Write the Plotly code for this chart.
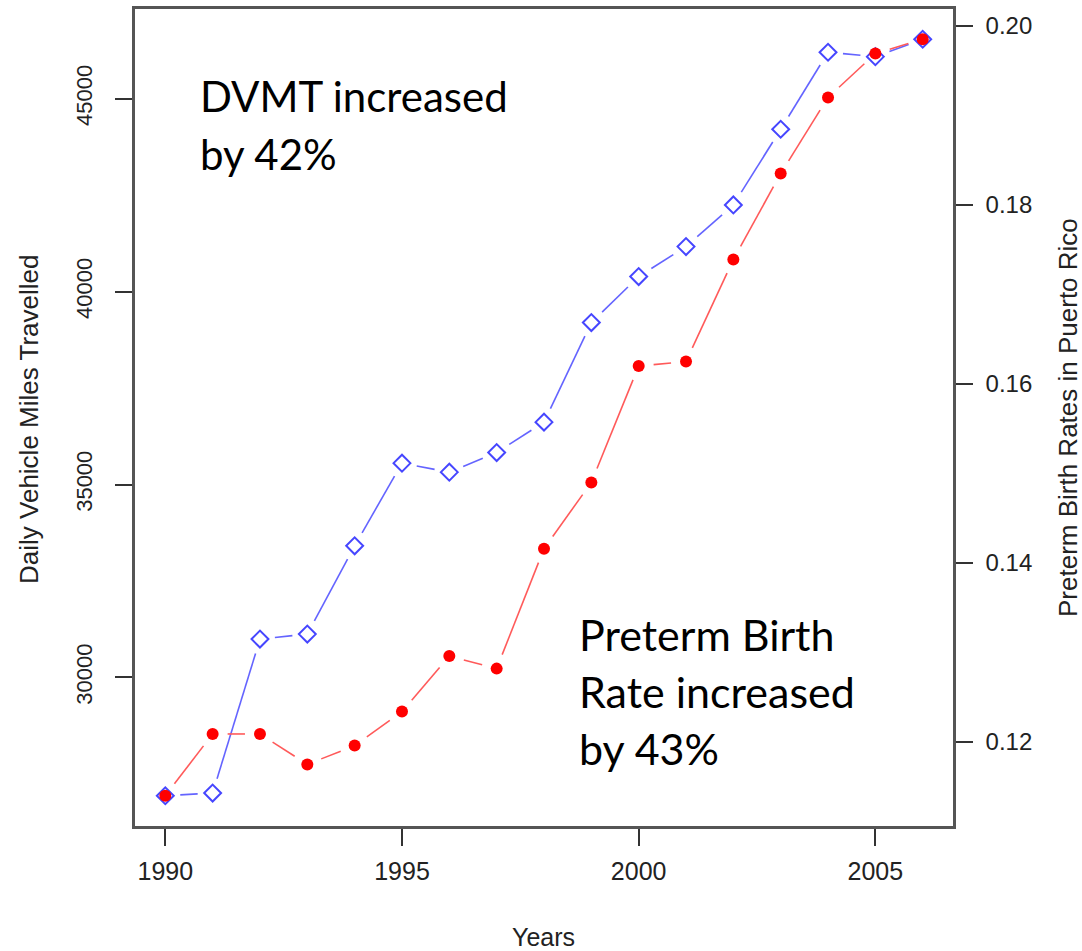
import math
import plotly.graph_objects as go

# ---------------- data ----------------
years = [1990, 1991, 1992, 1993, 1994, 1995, 1996, 1997, 1998,
         1999, 2000, 2001, 2002, 2003, 2004, 2005, 2006]
dvmt = [26935, 27005, 30995, 31124, 33412, 35554, 35321, 35829, 36617,
        39197, 40389, 41166, 42246, 44207, 46202, 46088, 46539]
preterm = [0.1140, 0.1209, 0.1209, 0.1175, 0.1196, 0.1234, 0.1296, 0.1282, 0.1416,
           0.1490, 0.1620, 0.1625, 0.1739, 0.1835, 0.1920, 0.1969, 0.1985]
x_ticks = [1990, 1995, 2000, 2005]
left_ticks = [30000, 35000, 40000, 45000]
right_ticks = [0.12, 0.14, 0.16, 0.18, 0.20]

x_title = "Years"
left_title = "Daily Vehicle Miles Travelled"
right_title = "Preterm Birth Rates in Puerto Rico"
note1 = ["DVMT increased", "by 42%"]
note2 = ["Preterm Birth", "Rate increased", "by 43%"]

# ---------------- layout geometry ----------------
FIG_W, FIG_H = 1082, 951
M_L, M_R, M_T, M_B = 135, 129, 9, 125
PW, PH = FIG_W - M_L - M_R, FIG_H - M_T - M_B


def ext_range(vals, frac=0.04):
    lo, hi = min(vals), max(vals)
    s = hi - lo
    return [lo - frac * s, hi + frac * s]


xr = ext_range(years)
yr_l = ext_range(dvmt)
yr_r = ext_range(preterm)


def gapped(xs, ys, xrng, yrng, gap):
    """Line segments between points, shortened near each point (R type='b')."""
    ox, oy = [], []
    for i in range(len(xs) - 1):
        px0 = (xs[i] - xrng[0]) / (xrng[1] - xrng[0]) * PW
        py0 = (ys[i] - yrng[0]) / (yrng[1] - yrng[0]) * PH
        px1 = (xs[i + 1] - xrng[0]) / (xrng[1] - xrng[0]) * PW
        py1 = (ys[i + 1] - yrng[0]) / (yrng[1] - yrng[0]) * PH
        d = math.hypot(px1 - px0, py1 - py0)
        if d <= 2 * gap:
            continue
        t = gap / d
        ox += [xs[i] + (xs[i + 1] - xs[i]) * t, xs[i] + (xs[i + 1] - xs[i]) * (1 - t), None]
        oy += [ys[i] + (ys[i + 1] - ys[i]) * t, ys[i] + (ys[i + 1] - ys[i]) * (1 - t), None]
    return ox, oy


def px2paper(px, py):
    return (px - M_L) / PW, 1 - (py - M_T) / PH


BLUE_LINE = "rgb(100,100,255)"
BLUE_MK = "rgb(70,70,255)"
RED_LINE = "rgb(255,90,90)"
RED_MK = "rgb(255,0,0)"
GAP = 15

fig = go.Figure()

bx, by = gapped(years, dvmt, xr, yr_l, GAP)
fig.add_trace(go.Scatter(x=bx, y=by, mode="lines", yaxis="y",
                         line=dict(color=BLUE_LINE, width=1.6), hoverinfo="skip", showlegend=False))
fig.add_trace(go.Scatter(x=years, y=dvmt, mode="markers", yaxis="y",
                         marker=dict(symbol="diamond-open", size=13, color=BLUE_MK,
                                     line=dict(width=2, color=BLUE_MK)),
                         showlegend=False, name="DVMT"))

rx, ry = gapped(years, preterm, xr, yr_r, GAP)
fig.add_trace(go.Scatter(x=rx, y=ry, mode="lines", yaxis="y2",
                         line=dict(color=RED_LINE, width=1.6), hoverinfo="skip", showlegend=False))
fig.add_trace(go.Scatter(x=years, y=preterm, mode="markers", yaxis="y2",
                         marker=dict(symbol="circle", size=12, color=RED_MK),
                         showlegend=False, name="Preterm"))

AX_FONT = "Liberation Sans, Arial, sans-serif"
TXT_FONT = "Lato, Noto Sans, sans-serif"
LINE_C = "#555555"
TICK_C = "#333333"
AX_TXT_C = "#222222"

annotations = []
for txt, base in zip(note1, [110, 168]):
    xp, yp = px2paper(198, base - 14)
    annotations.append(dict(x=xp, y=yp, xref="paper", yref="paper", text=txt,
                            showarrow=False, xanchor="left", yanchor="middle",
                            font=dict(family=TXT_FONT, size=42, color="black")))
for txt, base in zip(note2, [649, 706.5, 763]):
    xp, yp = px2paper(577, base - 15)
    annotations.append(dict(x=xp, y=yp, xref="paper", yref="paper", text=txt,
                            showarrow=False, xanchor="left", yanchor="middle",
                            font=dict(family=TXT_FONT, size=43, color="black")))

# axis titles placed as annotations
xp, yp = px2paper(543, 937)
annotations.append(dict(x=xp, y=yp, xref="paper", yref="paper", text=x_title,
                        showarrow=False, xanchor="center", yanchor="middle",
                        font=dict(family=AX_FONT, size=25, color=AX_TXT_C)))
xp, yp = px2paper(29, 420)
annotations.append(dict(x=xp, y=yp, xref="paper", yref="paper", text=left_title,
                        showarrow=False, xanchor="center", yanchor="middle", textangle=-90,
                        font=dict(family=AX_FONT, size=26, color=AX_TXT_C)))
xp, yp = px2paper(1068, 418)
annotations.append(dict(x=xp, y=yp, xref="paper", yref="paper", text=right_title,
                        showarrow=False, xanchor="center", yanchor="middle", textangle=-90,
                        font=dict(family=AX_FONT, size=26, color=AX_TXT_C)))

fig.update_layout(
    width=FIG_W, height=FIG_H,
    margin=dict(l=M_L, r=M_R, t=M_T, b=M_B, pad=0, autoexpand=False),
    paper_bgcolor="white", plot_bgcolor="white",
    showlegend=False,
    xaxis=dict(range=xr, tickvals=x_ticks, ticktext=[str(v) for v in x_ticks],
               ticks="outside", ticklen=17, tickwidth=1.5, automargin=False,
               tickcolor=TICK_C, showline=True, linecolor=LINE_C, linewidth=2.5, mirror=True,
               showgrid=False, zeroline=False, ticklabelstandoff=4,
               tickfont=dict(family=AX_FONT, size=25, color=AX_TXT_C)),
    yaxis=dict(range=yr_l, tickvals=left_ticks, ticktext=[str(v) for v in left_ticks],
               ticks="outside", ticklen=17, tickwidth=1.5, automargin=False,
               tickcolor=TICK_C, showline=True, linecolor=LINE_C, linewidth=2.5, mirror=True,
               showgrid=False, zeroline=False, tickangle=-90, ticklabelstandoff=14,
               tickfont=dict(family=AX_FONT, size=22, color=AX_TXT_C)),
    yaxis2=dict(range=yr_r, tickvals=right_ticks, ticktext=["%.2f" % v for v in right_ticks],
                overlaying="y", side="right", automargin=False,
                ticks="outside", ticklen=17, tickwidth=1.5, tickcolor=TICK_C,
                showline=True, linecolor=LINE_C, linewidth=2.5,
                showgrid=False, zeroline=False, ticklabelstandoff=8,
                tickfont=dict(family=AX_FONT, size=24, color=AX_TXT_C)),
    annotations=annotations,
)

fig.write_html(
    "out.html",
    config={"displayModeBar": False},
    post_script="document.body.style.margin='0';document.body.style.overflow='hidden';",
)
